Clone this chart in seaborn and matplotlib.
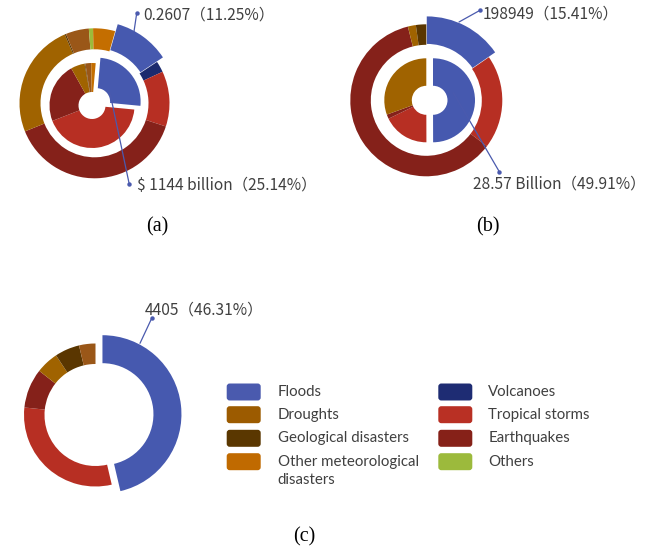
import matplotlib
matplotlib.use("Agg")
import matplotlib.pyplot as plt
from matplotlib.patches import FancyBboxPatch
import seaborn as sns

# ---------------------------------------------------------------- data
legend_left = ["Floods", "Droughts", "Geological disasters",
               "Other meteorological\ndisasters"]
legend_right = ["Volcanoes", "Tropical storms", "Earthquakes", "Others"]

palette = {
    "Floods": "#4659AF",
    "Droughts": "#A06300",
    "Geological disasters": "#5A3600",
    "Other meteorological\ndisasters": "#C46E00",
    "Volcanoes": "#1C2A6E",
    "Tropical storms": "#B72F23",
    "Earthquakes": "#85211A",
    "Others": "#9CBB3A",
    "Unclassified": "#9A5718",
}
legend_swatch = {
    "Floods": "#4A5AAE",
    "Droughts": "#9C5B00",
    "Geological disasters": "#5A3700",
    "Other meteorological\ndisasters": "#C06A00",
    "Volcanoes": "#1E2C73",
    "Tropical storms": "#B93024",
    "Earthquakes": "#862118",
    "Others": "#9CBA3C",
}

OM = "Other meteorological\ndisasters"

# (a) outer ring
a_outer_cats = ["Floods", "Volcanoes", "Tropical storms", "Earthquakes", "Droughts",
                "Geological disasters", "Unclassified", "Others", OM]
a_outer_vals = [11.25, 2.4, 11.9, 38.9, 24.6, 0.3, 5.0, 0.9, 4.75]
# (a) inner ring
a_inner_cats = ["Floods", "Tropical storms", "Earthquakes", "Droughts",
                "Geological disasters", "Unclassified", OM]
a_inner_vals = [25.14, 42.6, 22.8, 5.3, 0.3, 2.2, 1.7]
# (b) outer ring
b_outer_cats = ["Floods", "Tropical storms", "Earthquakes", "Droughts",
                "Geological disasters"]
b_outer_vals = [15.41, 19.9, 60.8, 1.7, 2.2]
# (b) inner ring
b_inner_cats = ["Floods", "Tropical storms", "Earthquakes", "Droughts"]
b_inner_vals = [49.91, 17.8, 1.7, 30.5]
# (c) single ring
c_cats = ["Floods", "Tropical storms", "Earthquakes", "Droughts",
          "Geological disasters", "Unclassified"]
c_vals = [46.31, 30.3, 8.9, 5.1, 5.6, 3.7]

# flood amounts shown in the callouts
callout_amounts = ["0.2607", "$ 1144 billion", "198949", "28.57 Billion", "4405"]

# ---------------------------------------------------------------- figure
sns.set_theme(style="white")
plt.rcParams["font.family"] = ["Noto Sans CJK SC", "DejaVu Sans"]

W, H = 647, 553
fig = plt.figure(figsize=(W / 100, H / 100), dpi=100)
ax = fig.add_axes([0, 0, 1, 1])


def Y(y):
    """pixel row (from the top) -> data y (from the bottom)"""
    return H - y


def ring(cats, vals, center, r_in, r_out, r_hl, explode_px, rot):
    # pie's explode offset is in data units, here pixels
    explode = [explode_px] + [0] * (len(vals) - 1)
    wedges, _ = ax.pie(
        vals, colors=[palette[c] for c in cats], radius=r_out,
        center=(center[0], Y(center[1])), startangle=90 - rot,
        counterclock=False, explode=explode, frame=True,
        wedgeprops=dict(width=r_out - r_in, linewidth=0),
    )
    # the flood slice is drawn wider than the rest of the ring
    wedges[0].set_radius(r_hl)
    wedges[0].set_width(r_hl - r_in)
    return wedges


ring(a_outer_cats, a_outer_vals, (94.5, 103.3), 54, 75, 81, 1.5, 16)
ring(a_inner_cats, a_inner_vals, (92, 105.5), 13.5, 42.5, 44, 6, 5)
ring(b_outer_cats, b_outer_vals, (426.3, 100.3), 55.5, 76, 83, 1, 0)
ring(b_inner_cats, b_inner_vals, (426.3, 100.3), 14.5, 42, 42, 6.7, 0)
ring(c_cats, c_vals, (95.5, 415), 51, 71.5, 79, 7, 0)

# ---------------------------------------------------------------- callouts
line_c = "#4A5AAE"
text_c = "#404040"
callouts = [
    # (amount, share, dot, line end, text anchor)
    (callout_amounts[0], a_outer_vals[0], (136.7, 13.3), (134, 31.5), (143, 15)),
    (callout_amounts[1], a_inner_vals[0], (129.3, 184.3), (110, 93), (137, 185)),
    (callout_amounts[2], b_outer_vals[0], (480, 10.3), (459, 22), (483, 14)),
    (callout_amounts[3], b_inner_vals[0], (499.3, 171.7), (453.3, 92.7), (473, 184.5)),
    (callout_amounts[4], c_vals[0], (151.7, 318.3), (140, 343.3), (145, 310.5)),
]
for amount, share, dot, end, txt in callouts:
    ax.plot([dot[0], end[0]], [Y(dot[1]), Y(end[1])], color=line_c, lw=0.9,
            solid_capstyle="round")
    ax.plot([dot[0]], [Y(dot[1])], marker="o", ms=3.2, color=line_c, mec="none")
    ax.text(txt[0], Y(txt[1]), f"{amount}（{share:.2f}%）", fontsize=11.2,
            color=text_c, ha="left", va="center")

# ---------------------------------------------------------------- captions
for label, (x, y) in zip(["(a)", "(b)", "(c)"], [(157, 227), (488, 227), (304, 537)]):
    ax.text(x, Y(y), label, fontsize=14.5, family="Liberation Serif",
            color="black", ha="center", va="center")

# ---------------------------------------------------------------- legend
row_y = [392, 414.7, 438.3, 461.7]
columns = [(legend_left, 226.7, 277.5), (legend_right, 438.3, 488.3)]
sw_w, sw_h = 34, 17
for names, sx, tx in columns:
    for name, ry in zip(names, row_y):
        ax.add_patch(FancyBboxPatch(
            (sx, Y(ry) - sw_h / 2), sw_w, sw_h,
            boxstyle="round,pad=0,rounding_size=3",
            facecolor=legend_swatch[name], edgecolor="none"))
        first, *rest = name.split("\n")
        ax.text(tx, Y(ry), first, fontsize=10.8, family="Lato",
                color=text_c, ha="left", va="center")
        for k, extra in enumerate(rest, start=1):
            ax.text(tx, Y(ry + 18.5 * k), extra, fontsize=10.8, family="Lato",
                    color=text_c, ha="left", va="center")

ax.set_xlim(0, W)
ax.set_ylim(0, H)
ax.set_aspect("equal")
ax.axis("off")

fig.savefig("out.png", dpi=100, facecolor="white")
